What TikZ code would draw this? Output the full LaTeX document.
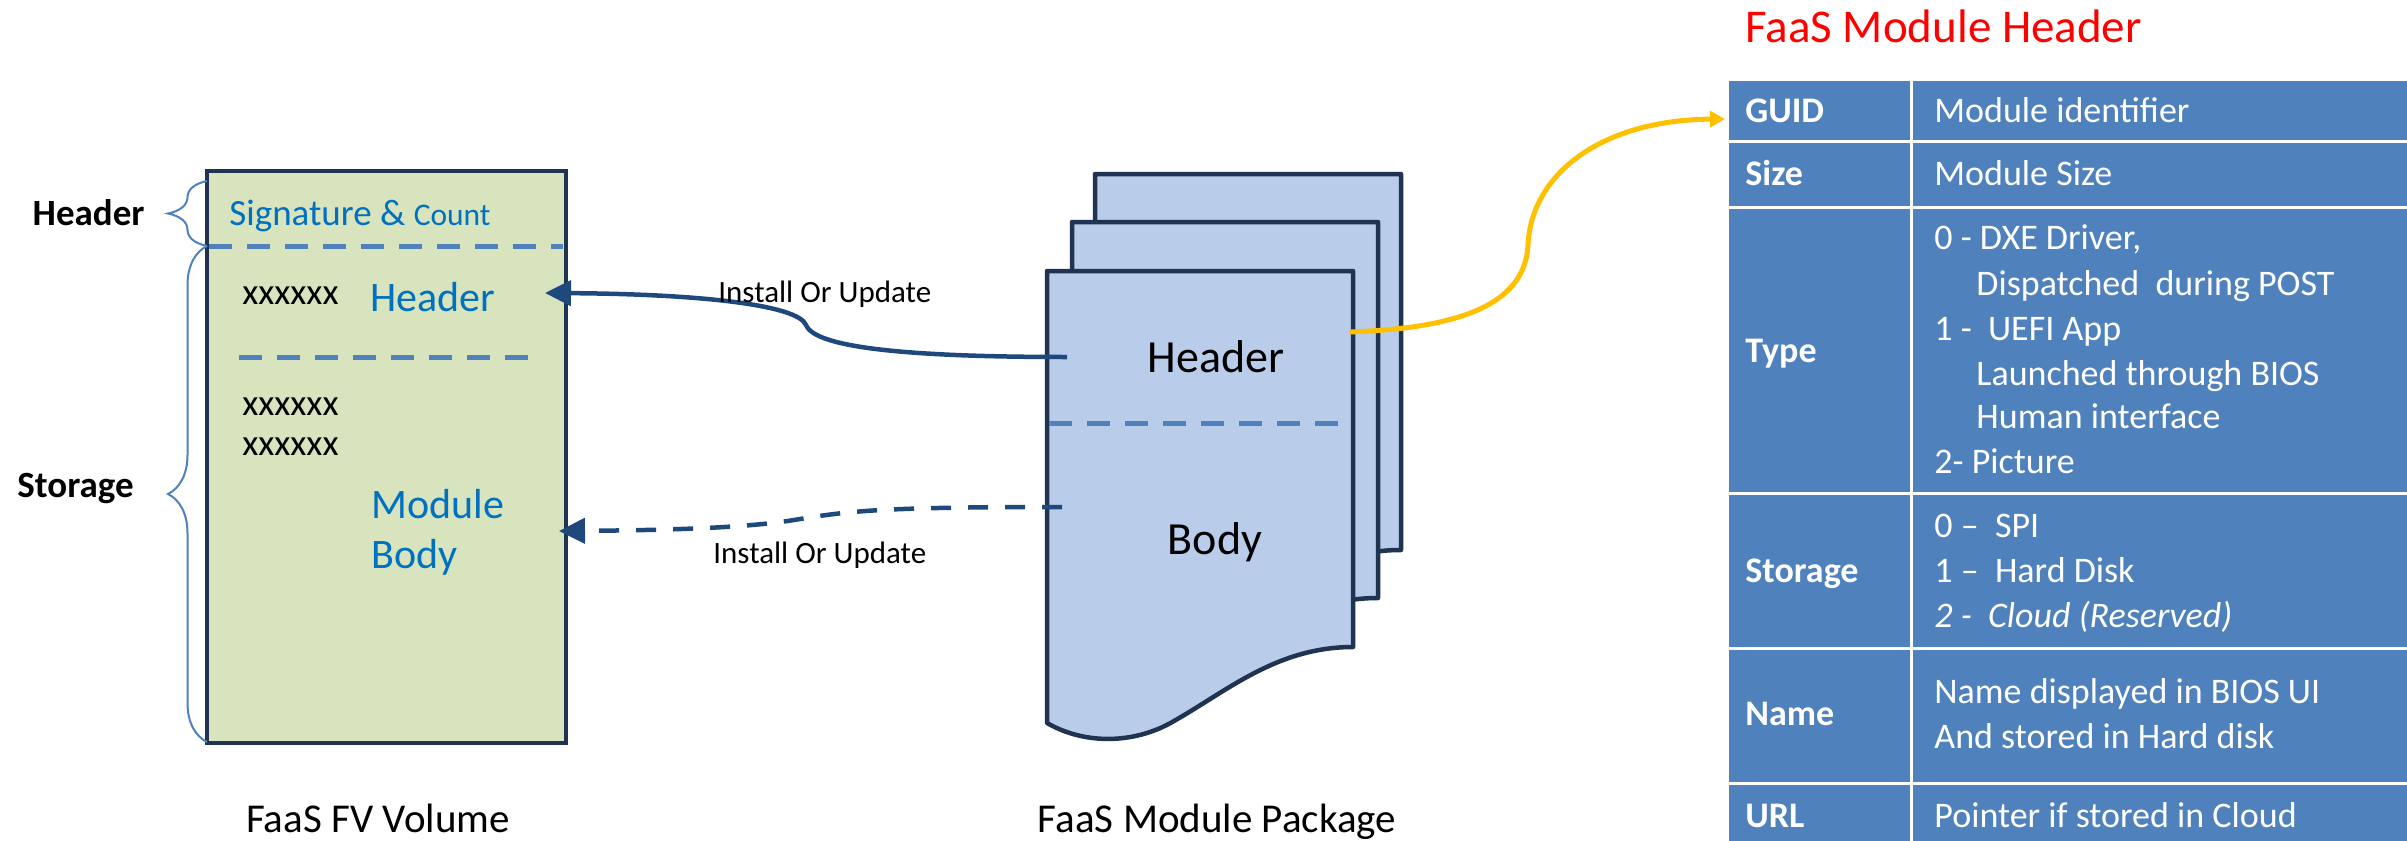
\documentclass[tikz,border=0pt]{standalone}
\usepackage{fontspec}
\setmainfont{Carlito}
\usetikzlibrary{arrows.meta,decorations.pathreplacing}

\definecolor{volColor}{RGB}{215,228,189}
\definecolor{edgeColor}{RGB}{32,52,82}
\definecolor{sepColor}{RGB}{79,129,189}
\definecolor{volText}{RGB}{0,112,192}
\definecolor{pageColor}{RGB}{185,205,235}
\definecolor{linkColor}{RGB}{31,73,125}
\definecolor{goldColor}{RGB}{255,192,0}
\definecolor{tableColor}{RGB}{79,129,189}

\tikzset{
  sep/.style={sepColor, line width=2.5pt, dash pattern=on 11.5pt off 7.5pt},
  page/.style={fill=pageColor, draw=edgeColor, line width=2.25pt, line join=round},
  link/.style={linkColor, line width=2.25pt, -{Triangle[length=13pt,width=12.5pt]}},
  cell/.style={fill=tableColor, draw=white, line width=1.5pt},
  txt/.style={inner sep=0pt, anchor=base west},
  tab/.style={txt, text=white, font=\fontsize{18pt}{22.5pt}\selectfont},
  tabkey/.style={tab, font=\fontsize{18pt}{22.5pt}\selectfont\bfseries},
}

\begin{document}
\begin{tikzpicture}[x=0.5pt, y=-0.5pt]
  \useasboundingbox (0,0) rectangle (2407,840);
  % FV volume
  \draw[fill=volColor, draw=edgeColor, line width=2.25pt] (207,171) rectangle (566,743);
  \draw[sep] (209,246) -- (563,246);
  \draw[sep] (239,357) -- (541,357);
  \node[txt, text=volText, font=\fontsize{18.5pt}{22pt}\selectfont] (sig) at (229,225) {Signature \& {\fontsize{15.75pt}{19pt}\selectfont Count}};
  \node[txt, font=\fontsize{18.5pt}{22pt}\selectfont] (xa) at (242,304) {xxxxxx};
  \node[txt, text=volText, font=\fontsize{21pt}{25pt}\selectfont] (volhdr) at (370,311) {Header};
  \node[txt, font=\fontsize{18.5pt}{22pt}\selectfont] (xb) at (242,415) {xxxxxx};
  \node[txt, font=\fontsize{18.5pt}{22pt}\selectfont] (xc) at (242,455) {xxxxxx};
  \node[txt, text=volText, font=\fontsize{21pt}{25pt}\selectfont] (volmod) at (371,518) {Module};
  \node[txt, text=volText, font=\fontsize{21pt}{25pt}\selectfont] (volbody) at (371,568) {Body};
  \node[inner sep=0pt, anchor=base, font=\fontsize{20.5pt}{24pt}\selectfont] (volcap) at (378,832) {FaaS FV Volume};
  % Braces
  \draw[sepColor, line width=1pt, decorate, decoration={brace, amplitude=19.5pt}] (207,246) -- (207,181);
  \draw[sepColor, line width=1pt, decorate, decoration={brace, amplitude=19.5pt}] (207,742) -- (207,246);
  \node[inner sep=0pt, anchor=base east, font=\fontsize{18.5pt}{22pt}\selectfont\bfseries] (hdrlab) at (145,225) {Header};
  \node[inner sep=0pt, anchor=base east, font=\fontsize{18.5pt}{22pt}\selectfont\bfseries] (storlab) at (134,497) {Storage};
  % Module package
  \foreach \dx/\dy in {48/-97, 25/-49, 0/0}
    \draw[page, shift={(1047+\dx,271+\dy)}] (0,0) -- (306,0) -- (306,376)
      .. controls (230,376) and (180,420) .. (127,450)
      .. controls (90,472) and (40,475) .. (0,452) -- cycle;
  \draw[sep] (1049,423) -- (1348,423);
  \node[inner sep=0pt, anchor=base, font=\fontsize{23pt}{27pt}\selectfont] (pkghdr) at (1216,372) {Header};
  \node[inner sep=0pt, anchor=base, font=\fontsize{23pt}{27pt}\selectfont] (pkgbody) at (1215,554) {Body};
  \node[inner sep=0pt, anchor=base, font=\fontsize{20.5pt}{24pt}\selectfont] (pkgcap) at (1217,832) {FaaS Module Package};
  % Links
  \coordinate (hdrOut) at (1067,357);
  \coordinate (hdrIn) at (545,293);
  \coordinate (bodyOut) at (1062,507);
  \coordinate (bodyIn) at (559,531);
  \draw[link] (hdrOut) .. controls (910,357) and (815,348) .. (806,325)
    .. controls (798,305) and (700,294) .. (hdrIn);
  \draw[link, dash pattern=on 10pt off 8.5pt] (bodyOut) .. controls (880,507) and (850,511) .. (800,519)
    .. controls (760,526) and (700,530) .. (bodyIn);
  \node[txt, font=\fontsize{15.5pt}{18pt}\selectfont] (lnka) at (718,302) {Install Or Update};
  \node[txt, font=\fontsize{15.5pt}{18pt}\selectfont] (lnkb) at (713,563) {Install Or Update};
  % Header table
  \node[txt, text=red, font=\fontsize{23.5pt}{28pt}\selectfont] (title) at (1745,43) {FaaS Module Header};
  \foreach \ya/\yb in {80/141, 141/207, 207/493, 493/648, 648/783, 783/870} {
    \draw[cell] (1727,\ya) rectangle (1911,\yb);
    \draw[cell] (1911,\ya) rectangle (2430,\yb);
  }
  \coordinate (guidIn) at (1725,119);
  \coordinate (yelOut) at (1349,332);
  \draw[goldColor, line width=2.5pt, -{Triangle[length=7.5pt,width=8pt]}] (yelOut)
    .. controls (1470,328) and (1525,300) .. (1528,245)
    .. controls (1531,175) and (1600,120) .. (guidIn);
  \node[tabkey] (kguid) at (1745,122) {GUID};
  \node[tabkey] (ksize) at (1745,185) {Size};
  \node[tabkey] (ktype) at (1745,362) {Type};
  \node[tabkey] (kstor) at (1745,582) {Storage};
  \node[tabkey] (kname) at (1745,725) {Name};
  \node[tabkey] (kurl) at (1745,827) {URL};
  \node[tab] (vguid) at (1934,122) {Module identifier};
  \node[tab] (vsize) at (1934,185) {Module Size};
  \node[tab] (vtypea) at (1934,249) {0 - DXE Driver,};
  \node[tab] (vtypeb) at (1976,295) {Dispatched\ \ during POST};
  \node[tab] (vtypec) at (1934,340) {1 -\ \ UEFI App};
  \node[tab] (vtyped) at (1976,385) {Launched through BIOS};
  \node[tab] (vtypee) at (1976,428) {Human interface};
  \node[tab] (vtypef) at (1934,473) {2- Picture};
  \node[tab] (vstora) at (1934,537) {0 --\ \ SPI};
  \node[tab] (vstorb) at (1934,582) {1 --\ \ Hard Disk};
  \node[tab] (vstorc) at (1934,627) {\itshape 2 -\ \ Cloud (Reserved)};
  \node[tab] (vnamea) at (1934,703) {Name displayed in BIOS UI};
  \node[tab] (vnameb) at (1934,748) {And stored in Hard disk};
  \node[tab] (vurl) at (1934,827) {Pointer if stored in Cloud};
\end{tikzpicture}
\end{document}
